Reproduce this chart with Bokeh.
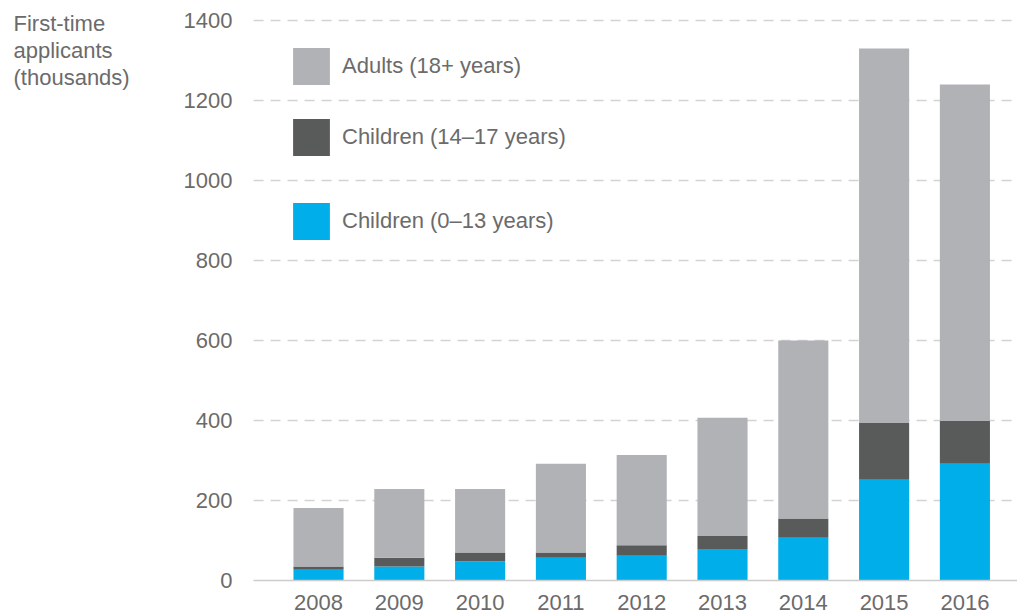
from bokeh.plotting import figure
from bokeh.models import (ColumnDataSource, Legend, LegendItem, Label, FixedTicker,
                          Range1d, LinearAxis)
from bokeh.embed import file_html
from bokeh.resources import INLINE

years = [2008, 2009, 2010, 2011, 2012, 2013, 2014, 2015, 2016]
children_0_13 = [27, 35, 48, 57, 62, 79, 107, 252, 292]
children_14_17 = [8, 22, 22, 13, 26, 32, 48, 142, 107]
adults_18_plus = [146, 172, 159, 222, 226, 296, 445, 936, 841]
y_ticks = [0, 200, 400, 600, 800, 1000, 1200, 1400]

series = ["children_0_13", "children_14_17", "adults_18_plus"]
colors = ["#00aeea", "#595b5b", "#b1b2b6"]
labels = ["Children (0\u201313 years)", "Children (14\u201317 years)", "Adults (18+ years)"]

source = ColumnDataSource(dict(
    years=years,
    children_0_13=children_0_13,
    children_14_17=children_14_17,
    adults_18_plus=adults_18_plus,
))

FONT = "Liberation Sans"
TEXT = "#6b6b6b"
SIZE = "22px"
GRID = "#d3d3d3"

# x extent of the bars area (left of it sit the value labels and the unit note)
X_LEFT = 2007.196
X_RIGHT = 2016.651

# the frame fills the whole canvas; both axes are pinned inside it
p = figure(
    width=1017, height=613,
    x_range=Range1d(2004.064, X_RIGHT), y_range=Range1d(-82.5, 1450),
    x_axis_location=None, y_axis_location=None,
    output_backend="svg", toolbar_location=None,
    min_border_left=0, min_border_right=0, min_border_top=0, min_border_bottom=0,
)
p.outline_line_color = None
p.background_fill_color = "white"
p.xgrid.grid_line_color = None
p.ygrid.grid_line_color = None

# dashed horizontal guides at every value tick above zero
grid_y = y_ticks[1:]
p.segment(x0=[X_LEFT] * len(grid_y), x1=[X_RIGHT] * len(grid_y), y0=grid_y, y1=grid_y,
          line_color=GRID, line_dash="10 7", line_width=1.4)

renderers = p.vbar_stack(series, x="years", width=0.62, source=source,
                         color=colors, line_color=None)

yaxis = LinearAxis(fixed_location=X_LEFT, ticker=FixedTicker(ticks=y_ticks))
yaxis.axis_line_color = None
yaxis.major_tick_line_color = None
yaxis.minor_tick_line_color = None
yaxis.major_label_text_font = FONT
yaxis.major_label_text_font_size = SIZE
yaxis.major_label_text_color = TEXT
yaxis.major_label_standoff = 15
p.add_layout(yaxis, "left")

xaxis = LinearAxis(fixed_location=0, ticker=FixedTicker(ticks=years), bounds=(X_LEFT, X_RIGHT))
xaxis.major_tick_line_color = None
xaxis.minor_tick_line_color = None
xaxis.major_label_text_font = FONT
xaxis.major_label_text_font_size = SIZE
xaxis.major_label_text_color = TEXT
xaxis.major_label_standoff = 8
xaxis.axis_line_color = "#cccccc"
xaxis.axis_line_width = 1.5
p.add_layout(xaxis, "below")

# legend: one block per item so the vertical gaps can differ
legend_pos = [(288, 369), (288, 453), (288, 524)]
for r, lab, (lx, ly) in zip(renderers, labels, legend_pos):
    leg = Legend(items=[LegendItem(label=lab, renderers=[r])],
                 location=(lx, ly), glyph_width=46, glyph_height=46,
                 label_text_font=FONT, label_text_font_size=SIZE,
                 label_text_color=TEXT, label_standoff=8,
                 border_line_color=None, background_fill_alpha=0,
                 padding=0, margin=0)
    p.add_layout(leg, "center")

unit_note = Label(x=13, y=603, x_units="screen", y_units="screen",
                  text="First-time\napplicants\n(thousands)",
                  text_font=FONT, text_font_size=SIZE, text_color=TEXT,
                  text_baseline="top", text_align="left", text_line_height=1.08)
p.add_layout(unit_note)

open("out.html", "w").write(file_html(p, INLINE))
